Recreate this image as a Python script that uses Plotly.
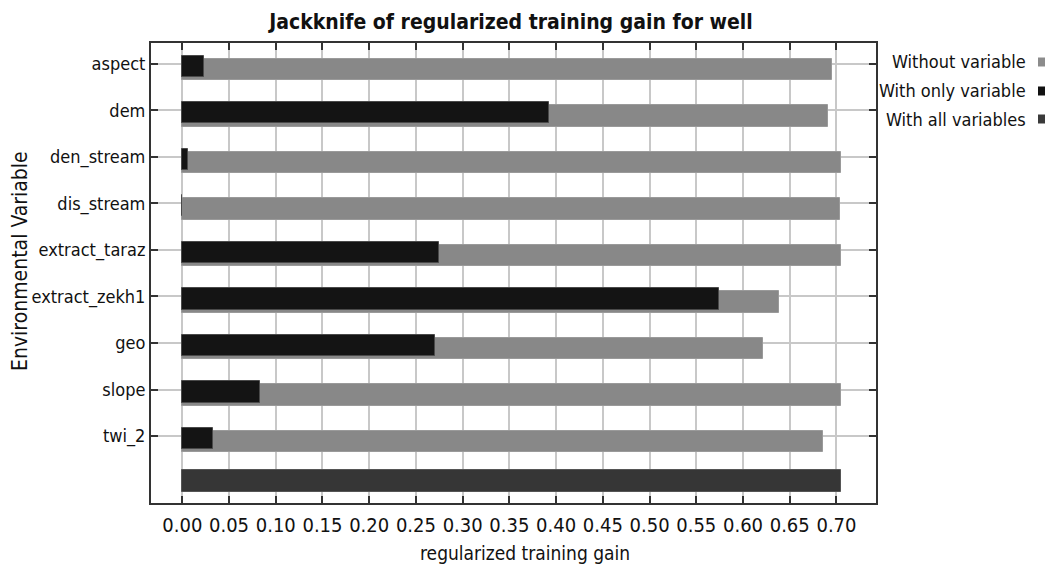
import plotly.graph_objects as go

categories = ["aspect", "dem", "den_stream", "dis_stream", "extract_taraz",
              "extract_zekh1", "geo", "slope", "twi_2"]
without_variable = [0.6955, 0.691, 0.705, 0.7037, 0.705, 0.6388, 0.621, 0.705, 0.686]
with_only_variable = [0.0232, 0.392, 0.0061, 0.0, 0.275, 0.574, 0.2704, 0.0835, 0.0332]
with_all_variables = 0.705
x_ticks = [0.00, 0.05, 0.10, 0.15, 0.20, 0.25, 0.30, 0.35, 0.40, 0.45, 0.50, 0.55, 0.60, 0.65, 0.70]

FONT = "Liberation Sans Narrow, Arial Narrow, DejaVu Sans Condensed, sans-serif"
C_WITHOUT = "#888888"
C_ONLY = "#141414"
C_ALL = "#363636"

idx = list(range(len(categories)))
BW = 0.46

fig = go.Figure()
fig.add_trace(go.Bar(
    x=without_variable, y=idx, orientation="h", width=BW, offset=0.12 - BW / 2,
    marker=dict(color=C_WITHOUT, line=dict(color="#9a9a9a", width=1)),
    name="Without variable", showlegend=False))
fig.add_trace(go.Bar(
    x=with_only_variable, y=idx, orientation="h", width=BW, offset=0.05 - BW / 2,
    marker=dict(color=C_ONLY, line=dict(color="#4a4a4a", width=1)),
    name="With only variable", showlegend=False))
fig.add_trace(go.Bar(
    x=[with_all_variables], y=[len(categories)], orientation="h", width=BW, offset=-0.03 - BW / 2,
    marker=dict(color=C_ALL, line=dict(color="#555555", width=1)),
    name="With all variables", showlegend=False))

# page body has an 8px margin: work in screen pixels and shift
OFF = 8
L, R, T, B = 151 - OFF, 876 - OFF, 43 - OFF, 503 - OFF
W, H = R - L, B - T
def px(x): return (x - OFF - L) / W
def py(y): return (B - (y - OFF)) / H

legend_items = [("Without variable", "#8c8c8c"), ("With only variable", "#111111"),
                ("With all variables", "#3a3a3a")]
legend_y = [62, 91, 119]
annotations = []
shapes = []
for (label, col), yy in zip(legend_items, legend_y):
    annotations.append(dict(text=label, xref="paper", yref="paper", x=px(1028), y=py(yy),
                            xanchor="right", yanchor="middle", showarrow=False,
                            font=dict(family=FONT, size=18, color="#111")))
    shapes.append(dict(type="rect", xref="paper", yref="paper",
                       x0=px(1038), x1=px(1047), y0=py(yy + 4.5), y1=py(yy - 4.5),
                       fillcolor=col, line=dict(width=0)))

annotations.append(dict(text="Environmental Variable", xref="paper", yref="paper",
                        x=px(20), y=py(261), xanchor="center", yanchor="middle",
                        textangle=-90, showarrow=False,
                        font=dict(family=FONT, size=21, color="#111")))
annotations.append(dict(text="regularized training gain", xref="paper", yref="paper",
                        x=px(525), y=py(553), xanchor="center", yanchor="middle",
                        showarrow=False, font=dict(family=FONT, size=19, color="#111")))

fig.update_layout(
    width=1053, height=570,
    margin=dict(l=L, r=1053 - R, t=T, b=570 - B, autoexpand=False),
    paper_bgcolor="white", plot_bgcolor="white",
    barmode="overlay", bargap=0,
    font=dict(family=FONT, size=20, color="#111"),
    title=dict(text="<b>Jackknife of regularized training gain for well</b>",
               x=px(511), xref="paper", xanchor="center",
               y=1 - (22 - OFF) / 570, yref="container", yanchor="middle",
               font=dict(family=FONT, size=21, color="#111")),
    annotations=annotations, shapes=shapes,
    xaxis=dict(range=[-0.0335, 0.7423], tickvals=x_ticks,
               ticktext=[f"{v:.2f}" for v in x_ticks], automargin=False,
               showgrid=True, gridcolor="#c8c8c8", gridwidth=1.5,
               zeroline=False, showline=True, linecolor="#333", linewidth=2, mirror="ticks",
               ticks="inside", ticklen=7, tickcolor="#333", tickwidth=1.5,
               ticklabelstandoff=3,
               tickfont=dict(family=FONT, size=20)),
    yaxis=dict(range=[9.44, -0.45], tickvals=idx, ticktext=categories, automargin=False,
               showgrid=True, gridcolor="#c8c8c8", gridwidth=1.5,
               zeroline=False, showline=True, linecolor="#333", linewidth=2, mirror="ticks",
               ticks="inside", ticklen=7, tickcolor="#333", tickwidth=1.5,
               tickfont=dict(family=FONT, size=18)),
)

fig.write_html("out.html")
